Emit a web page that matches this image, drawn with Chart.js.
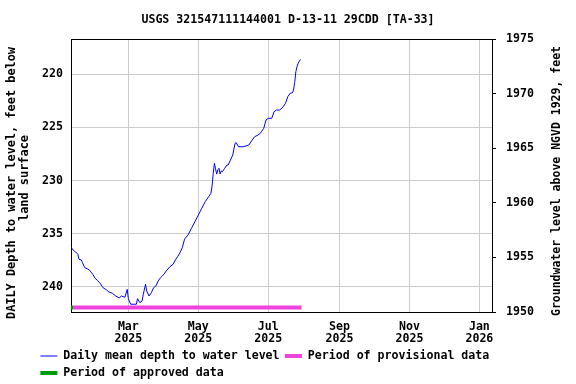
<!DOCTYPE html>
<html><head><meta charset="utf-8">
<script src="https://cdn.jsdelivr.net/npm/chart.js@4/dist/chart.umd.min.js"></script>
<style>html,body{margin:0;padding:0;background:#fff;}canvas{display:block;}</style>
</head><body>
<canvas id="c" width="576" height="384"></canvas>
<script>
const chartTitle = 'USGS 321547111144001 D-13-11 29CDD [TA-33]';
const leftAxisTitle = ['DAILY Depth to water level, feet below', 'land surface'];
const rightAxisTitle = 'Groundwater level above NGVD 1929, feet';
const seriesLabels = ['Daily mean depth to water level', 'Period of provisional data', 'Period of approved data'];

const dates = [
 '2025-01-10','2025-01-11','2025-01-12','2025-01-14','2025-01-16','2025-01-17','2025-01-19','2025-01-20','2025-01-22','2025-01-24',
 '2025-01-26','2025-01-27','2025-01-29','2025-01-31','2025-02-02','2025-02-04','2025-02-07','2025-02-10','2025-02-12','2025-02-15',
 '2025-02-18','2025-02-21','2025-02-23','2025-02-26','2025-02-28','2025-03-01','2025-03-03','2025-03-06','2025-03-08','2025-03-09',
 '2025-03-11','2025-03-13','2025-03-14','2025-03-16','2025-03-17','2025-03-19','2025-03-21','2025-03-23','2025-03-25','2025-03-27',
 '2025-03-29','2025-04-01','2025-04-03','2025-04-06','2025-04-09','2025-04-11','2025-04-13','2025-04-15','2025-04-17','2025-04-19',
 '2025-04-22','2025-04-25','2025-04-28','2025-05-01','2025-05-04','2025-05-07','2025-05-10','2025-05-12','2025-05-13','2025-05-14',
 '2025-05-15','2025-05-16','2025-05-17','2025-05-18','2025-05-19','2025-05-20','2025-05-21','2025-05-22','2025-05-23','2025-05-24',
 '2025-05-26','2025-05-27','2025-05-29','2025-05-31','2025-06-02','2025-06-03','2025-06-05','2025-06-09','2025-06-14','2025-06-17',
 '2025-06-19','2025-06-22','2025-06-24','2025-06-25','2025-06-27','2025-06-29','2025-07-01','2025-07-04','2025-07-06','2025-07-08',
 '2025-07-11','2025-07-14','2025-07-16','2025-07-18','2025-07-20','2025-07-22','2025-07-23','2025-07-24','2025-07-25','2025-07-26',
 '2025-07-27','2025-07-29'
];
const depths = [
 236.25,236.40,236.55,236.71,236.93,237.40,237.46,237.72,238.19,238.28,
 238.40,238.53,238.81,239.18,239.37,239.60,240.07,240.28,240.47,240.59,
 240.85,241.03,240.85,240.97,240.22,241.10,241.62,241.62,241.62,241.10,
 241.47,241.31,240.69,239.75,240.38,240.85,240.54,240.07,239.91,239.44,
 239.13,238.81,238.50,238.12,237.87,237.46,237.15,236.78,236.31,235.50,
 235.12,234.49,233.87,233.24,232.61,231.99,231.52,231.20,230.50,229.32,
 228.38,228.90,229.40,229.00,228.85,229.39,229.10,229.17,229.01,228.85,
 228.54,228.54,228.08,227.61,226.51,226.45,226.83,226.83,226.67,226.20,
 225.89,225.73,225.57,225.42,225.10,224.32,224.16,224.16,223.54,223.38,
 223.38,223.07,222.75,222.13,221.81,221.76,221.50,220.80,219.78,219.31,
 218.99,218.62
];

const depthTicks = [220, 225, 230, 235, 240];
const elevationTicks = [1950, 1955, 1960, 1965, 1970, 1975];
const xTickDates = ['2025-03-01','2025-05-01','2025-07-01','2025-09-01','2025-11-01','2026-01-01'];
const xTickLabels = [['Mar','2025'],['May','2025'],['Jul','2025'],['Sep','2025'],['Nov','2025'],['Jan','2026']];
const xRange = ['2025-01-10','2026-01-12'];
const depthRange = [216.71, 242.35];
const elevationRange = [1950, 1975];
const provisionalPeriod = ['2025-01-12','2025-07-30'];
const approvedPeriod = ['2025-01-10','2025-01-12'];

const FAMILY = "'DejaVu Sans Mono', 'Liberation Mono', monospace";
const FS = 11.6;
const font = {family: FAMILY, size: FS, weight: 'bold'};
const epoch = Date.parse('2025-01-01T00:00:00Z');
const dayOf = s => (Date.parse(s + 'T00:00:00Z') - epoch) / 864e5;

const CA = {left: 71, right: 492, top: 39, bottom: 312};

const extras = {
  id: 'extras',
  afterLayout(chart) {
    const lg = chart.legend;
    const pad = lg.options.labels.padding;
    lg.left = 40.4 - pad;
    lg.right = 576;
    lg.top = 356 - pad - FS / 2;
  },
  afterDatasetsDraw(chart) {
    const ctx = chart.ctx, xs = chart.scales.x, a = chart.chartArea;
    ctx.save();
    chart.data.datasets.forEach(ds => {
      if (!ds.period) return;
      const x1 = xs.getPixelForValue(dayOf(ds.period[0]));
      const x2 = xs.getPixelForValue(dayOf(ds.period[1]));
      ctx.beginPath();
      ctx.lineCap = 'butt';
      ctx.strokeStyle = ds.borderColor;
      ctx.lineWidth = ds.borderWidth;
      ctx.moveTo(x1, a.bottom - 4.5);
      ctx.lineTo(x2, a.bottom - 4.5);
      ctx.stroke();
    });
    ctx.restore();
  },
  afterDraw(chart) {
    const ctx = chart.ctx, a = chart.chartArea;
    ctx.save();
    ctx.strokeStyle = '#000';
    ctx.lineWidth = 1;
    ctx.beginPath();
    ctx.moveTo(Math.round(a.left), Math.round(a.top) + 0.5);
    ctx.lineTo(Math.round(a.right) + 1, Math.round(a.top) + 0.5);
    ctx.stroke();
    ctx.fillStyle = '#000';
    ctx.textAlign = 'center';
    ctx.textBaseline = 'middle';
    const rot = (txt, x, y) => { ctx.save(); ctx.translate(x, y); ctx.rotate(-Math.PI / 2); ctx.fillText(txt, 0, 0); ctx.restore(); };
    ctx.font = `bold 11.9px ${FAMILY}`;
    rot(leftAxisTitle[0], 12, 183);
    rot(leftAxisTitle[1], 25, 178);
    ctx.font = `bold 11.5px ${FAMILY}`;
    rot(rightAxisTitle, 557, 181);
    ctx.restore();
  }
};

new Chart(document.getElementById('c'), {
  type: 'line',
  data: {
    datasets: [
      {label: seriesLabels[0], data: dates.map((d, i) => ({x: dayOf(d), y: depths[i]})),
       borderColor: '#0000ff', backgroundColor: '#0000ff', borderWidth: 1, pointRadius: 0, tension: 0, fill: false, yAxisID: 'y'},
      {label: seriesLabels[1], data: [], period: provisionalPeriod, borderColor: '#ee44dd', backgroundColor: '#ee44dd', borderWidth: 4, pointRadius: 0, yAxisID: 'y'},
      {label: seriesLabels[2], data: [], period: approvedPeriod, borderColor: '#009900', backgroundColor: '#009900', borderWidth: 4, pointRadius: 0, yAxisID: 'y'}
    ]
  },
  options: {
    responsive: false, animation: false, devicePixelRatio: 1,
    layout: {padding: 0},
    plugins: {
      title: {display: true, text: chartTitle, font, color: '#000', padding: {top: 12.9, bottom: 12.2}},
      legend: {
        position: 'bottom', align: 'start', maxHeight: 28,
        labels: {
          font, color: '#000', usePointStyle: true, pointStyleWidth: 17, padding: 5.4,
          generateLabels: chart => chart.data.datasets.map((ds, i) => ({
            text: ds.label, strokeStyle: ds.borderColor, fillStyle: ds.borderColor, fontColor: '#000',
            lineWidth: ds.borderWidth, pointStyle: 'line', hidden: false, datasetIndex: i
          }))
        }
      },
      tooltip: {enabled: false}
    },
    scales: {
      x: {
        type: 'linear', min: dayOf(xRange[0]), max: dayOf(xRange[1]),
        afterBuildTicks: s => { s.ticks = xTickDates.map(d => ({value: dayOf(d)})); },
        ticks: {font: {...font, lineHeight: 12 / FS}, color: '#000', padding: 8.7, maxRotation: 0, autoSkip: false,
                callback: (v, i) => xTickLabels[i]},
        grid: {color: '#cccccc', drawTicks: false},
        border: {color: '#000'},
        afterFit: s => { s.height = 384 - CA.bottom - s.chart.legend.height; }
      },
      y: {
        position: 'left', reverse: true, min: depthRange[0], max: depthRange[1],
        afterBuildTicks: s => { s.ticks = depthTicks.map(v => ({value: v})); },
        ticks: {font, color: '#000', padding: 8, callback: v => String(v)},
        grid: {color: '#cccccc', drawTicks: false},
        border: {color: '#000'},
        afterFit: s => { s.width = CA.left; }
      },
      y2: {
        position: 'right', min: elevationRange[0], max: elevationRange[1],
        afterBuildTicks: s => { s.ticks = elevationTicks.map(v => ({value: v})); },
        ticks: {font, color: '#000', padding: 10, callback: v => String(v)},
        grid: {drawOnChartArea: false, drawTicks: true, tickLength: 4, color: '#000'},
        border: {color: '#000'},
        afterFit: s => { s.width = 576 - CA.right; }
      }
    }
  },
  plugins: [extras]
});
</script>
</body></html>
